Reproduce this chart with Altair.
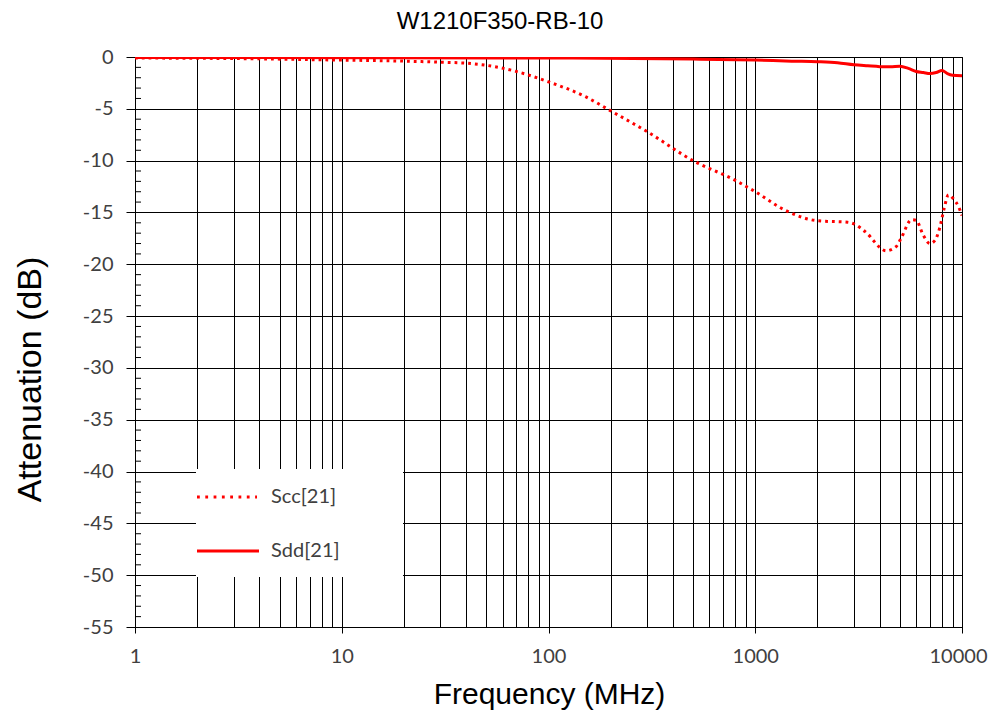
import altair as alt
import pandas as pd

# ---- data ----
scc_freq = [1, 3, 10, 20, 30, 40, 50, 70, 100, 150, 200, 300, 500, 800, 1000, 1400,
            2000, 2800, 3000, 3400, 4300, 4800, 5100, 5700, 6000, 6500, 7000, 7400,
            7800, 8200, 8600, 9100, 9600, 10000]
scc_db = [-0.1, -0.15, -0.3, -0.4, -0.5, -0.6, -0.8, -1.4, -2.4, -3.8, -5.2, -7.2,
          -10.0, -11.9, -13.0, -14.8, -15.8, -15.95, -16.1, -16.85, -18.7, -18.3,
          -17.4, -15.7, -15.75, -17.2, -18.0, -17.7, -16.5, -14.6, -13.3, -13.7,
          -14.4, -15.3]

sdd_freq = [1, 100, 500, 1000, 1500, 2000, 2500, 3000, 3500, 4000, 4500, 5000,
            5500, 6000, 6500, 7000, 7500, 8000, 8500, 9000, 10000]
sdd_db = [-0.05, -0.1, -0.2, -0.3, -0.4, -0.45, -0.55, -0.75, -0.85, -0.93, -0.95,
          -0.9, -1.1, -1.4, -1.5, -1.6, -1.5, -1.3, -1.6, -1.75, -1.8]

legend_labels = ["Scc[21]", "Sdd[21]"]
chart_title = "W1210F350-RB-10"
x_title = "Frequency (MHz)"
y_title = "Attenuation (dB)"

x_grid = [m * 10 ** e for e in range(4) for m in range(1, 10)] + [10000]
x_major = [1, 10, 100, 1000, 10000]
y_major = [0, -5, -10, -15, -20, -25, -30, -35, -40, -45, -50, -55]
y_minor = [v for v in range(-54, 0) if v % 5 != 0]

scc_df = pd.DataFrame({"freq": scc_freq, "db": scc_db})
sdd_df = pd.DataFrame({"freq": sdd_freq, "db": sdd_db})
minor_df = pd.DataFrame({"db": y_minor})
one = pd.DataFrame({"k": [0]})

RED = "#ff0000"
LABEL_FONT = "Lato"
TITLE_FONT = "Liberation Sans"

major_test = "indexof(" + str(x_major) + ", datum.value) >= 0"

x_scale = alt.Scale(type="log", domain=[1, 10000], nice=False)
y_scale = alt.Scale(domain=[-55, 0], nice=False, zero=False)

x_axis = alt.Axis(
    values=x_grid, format="d",
    labelExpr=major_test + " ? datum.label : ''",
    grid=True, gridColor="black", gridWidth=1, gridOpacity=1,
    tickSize=6, tickColor="black", tickWidth=1,
    tickOpacity={"condition": {"test": major_test, "value": 1}, "value": 0},
    domainColor="black", domainWidth=1,
    labelFont=LABEL_FONT, labelFontSize=20, labelColor="#404040",
    labelPadding=13, labelOverlap=False, labelFlush=False, labelBound=False,
    labelOffset={"condition": {"test": "datum.value >= 10000", "value": -4}, "value": 0},
    title=x_title, titleFont=TITLE_FONT, titleFontSize=30, titleFontWeight="normal",
    titleColor="black", titleX=414, titleY=76, titleBaseline="alphabetic",
    titleAlign="center",
)

y_axis = alt.Axis(
    values=y_major, labelExpr="'' + datum.value",
    grid=True, gridColor="black", gridWidth=1, gridOpacity=1,
    tickSize=9, tickColor="black", tickWidth=1,
    domainColor="black", domainWidth=1,
    labelFont=LABEL_FONT, labelFontSize=20, labelColor="#404040",
    labelPadding=13, labelOverlap=False, labelFlush=False, labelBound=False,
    title=y_title, titleFont=TITLE_FONT, titleFontSize=34, titleFontWeight="normal",
    titleColor="black", titleX=-95, titleY=322, titleBaseline="alphabetic",
    titleAlign="center",
)

scc_line = alt.Chart(scc_df).mark_line(
    color=RED, strokeWidth=3, strokeDash=[2.8, 4], interpolate="monotone", clip=True
).encode(
    x=alt.X("freq:Q", scale=x_scale, axis=x_axis),
    y=alt.Y("db:Q", scale=y_scale, axis=y_axis),
)

sdd_line = alt.Chart(sdd_df).mark_line(
    color=RED, strokeWidth=3, interpolate="monotone", clip=True
).encode(
    x=alt.X("freq:Q", scale=x_scale),
    y=alt.Y("db:Q", scale=y_scale),
)

minor_ticks = alt.Chart(minor_df).mark_rule(color="black", strokeWidth=1).encode(
    y=alt.Y("db:Q", scale=y_scale),
    x=alt.value(0),
    x2=alt.value(6),
)

legend_bg = alt.Chart(one).mark_rect(color="white").encode(
    x=alt.value(61), x2=alt.value(268), y=alt.value(412), y2=alt.value(520)
)

leg_scc = alt.Chart(one).mark_rule(
    color=RED, strokeWidth=2.8, strokeDash=[2.8, 5.5]
).encode(x=alt.value(62), x2=alt.value(122), y=alt.value(440))

leg_sdd = alt.Chart(one).mark_rule(color=RED, strokeWidth=3).encode(
    x=alt.value(62), x2=alt.value(124), y=alt.value(494)
)

leg_txt1 = alt.Chart(one).mark_text(
    font=LABEL_FONT, fontSize=20, color="#404040", align="left", baseline="middle"
).encode(x=alt.value(136), y=alt.value(440), text=alt.value(legend_labels[0]))

leg_txt2 = alt.Chart(one).mark_text(
    font=LABEL_FONT, fontSize=20, color="#404040", align="left", baseline="middle"
).encode(x=alt.value(136), y=alt.value(494), text=alt.value(legend_labels[1]))

title_mark = alt.Chart(one).mark_text(
    font=TITLE_FONT, fontSize=24, color="black", align="center",
    baseline="alphabetic", clip=False
).encode(x=alt.value(365), y=alt.value(-28), text=alt.value(chart_title))

chart = alt.layer(
    scc_line, sdd_line, minor_ticks, legend_bg, leg_scc, leg_sdd, leg_txt1, leg_txt2,
    title_mark
).properties(
    width=827, height=570,
    padding={"left": 127, "top": 49, "right": 26, "bottom": 83},
    autosize=alt.AutoSizeParams(type="none"),
    background="white",
).configure_view(stroke="black", strokeWidth=1)

chart.save("out.html", embed_options={"renderer": "svg", "actions": False})
